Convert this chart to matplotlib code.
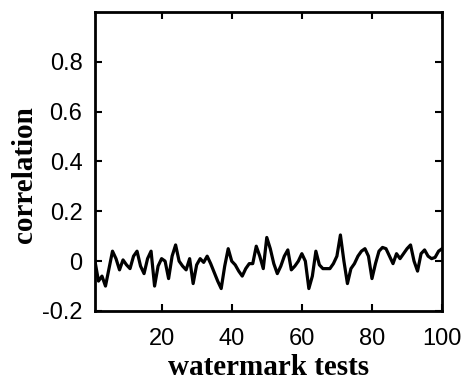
import matplotlib
matplotlib.use("Agg")
import matplotlib.pyplot as plt
import numpy as np

# correlation of the detector output for each watermark test
tests = np.arange(1, 101)
correlation = [
    0.00, -0.08, -0.06, -0.10, -0.03, 0.04, 0.01, -0.035, 0.005, -0.015,
    -0.03, 0.02, 0.04, -0.02, -0.05, 0.01, 0.04, -0.10, -0.02, 0.01,
    0.00, -0.07, 0.02, 0.065, 0.00, -0.02, -0.035, 0.01, -0.09, -0.015,
    0.01, -0.005, 0.02, -0.01, -0.045, -0.08, -0.11, -0.02, 0.05, 0.00,
    -0.015, -0.04, -0.06, -0.03, -0.01, -0.01, 0.06, 0.02, -0.03, 0.095,
    0.05, -0.01, -0.05, -0.02, 0.02, 0.045, -0.035, -0.02, 0.00, 0.03,
    0.00, -0.11, -0.06, 0.04, -0.015, -0.03, -0.03, -0.03, -0.01, 0.02,
    0.105, 0.00, -0.09, -0.03, -0.01, 0.02, 0.04, 0.05, 0.02, -0.07,
    -0.01, 0.04, 0.055, 0.05, 0.02, -0.01, 0.03, 0.01, 0.03, 0.05,
    0.065, 0.00, -0.04, 0.03, 0.045, 0.02, 0.01, 0.015, 0.04, 0.05,
]
xticks = [20, 40, 60, 80, 100]
yticks = [-0.2, 0, 0.2, 0.4, 0.6, 0.8]
ytick_labels = ["-0.2", "0", "0.2", "0.4", "0.6", "0.8"]

fig = plt.figure(figsize=(4.61, 3.83), dpi=100)
ax = fig.add_axes([0.206, 0.188, 0.753, 0.781])

ax.plot(tests, correlation, color="black", linewidth=2.3)

ax.set_xlim(1, 100)
ax.set_ylim(-0.2, 1.0)
ax.set_xticks(xticks)
ax.set_yticks(yticks)
ax.set_yticklabels(ytick_labels)

for spine in ax.spines.values():
    spine.set_linewidth(2.0)

ax.tick_params(direction="in", length=5, width=1.5, top=True, right=True,
               labelsize=17)
ax.tick_params(axis="x", pad=12)
ax.tick_params(axis="y", pad=9)
for lbl in ax.get_xticklabels() + ax.get_yticklabels():
    lbl.set_fontfamily("Liberation Sans")

ax.set_xlabel("watermark tests", family="Liberation Serif", fontweight="bold",
              fontsize=21)
ax.set_ylabel("correlation", family="Liberation Serif", fontweight="bold",
              fontsize=21)
ax.xaxis.set_label_coords(0.5, -0.145)
ax.yaxis.set_label_coords(-0.165, 0.455)

fig.savefig("out.png", dpi=100)
